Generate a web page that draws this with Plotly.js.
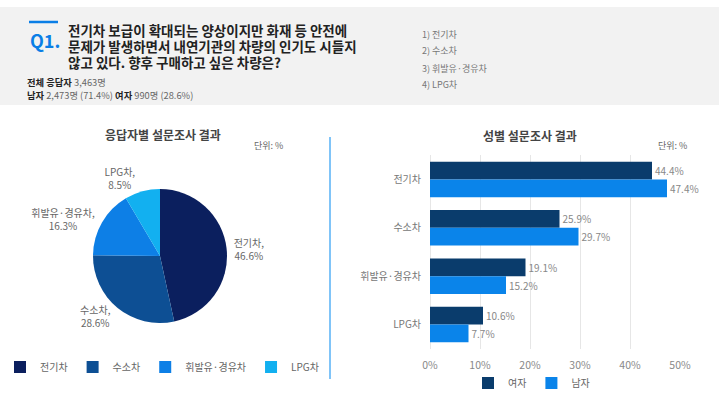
<!DOCTYPE html>
<html><head><meta charset="utf-8">
<script src="https://cdn.plot.ly/plotly-3.0.1.min.js"></script>
<style>html,body{margin:0;padding:0;background:#fff}#c{width:719px;height:401px}</style>
</head><body><div id="c"></div>
<script>
// ---- data ----
const pieLabels = ['전기차', '수소차', '휘발유·경유차', 'LPG차'];
const pieValues = [46.6, 28.6, 16.3, 8.5];
const barCategories = ['전기차', '수소차', '휘발유·경유차', 'LPG차'];
const femaleValues = [44.4, 25.9, 19.1, 10.6];
const maleValues = [47.4, 29.7, 15.2, 7.7];
const xTickValues = [0, 10, 20, 30, 40, 50];
const optionList = ['1) 전기차', '2) 수소차', '3) 휘발유·경유차', '4) LPG차'];

const W = 719, H = 401;
const px = x => x / W, py = y => 1 - y / H;
const FONT = '"Noto Sans CJK KR", "Noto Sans", sans-serif';
const pct = v => v + '%';

const pieColors = ['#0b1f5e', '#0d4f94', '#0d7fe6', '#12b0f0'];

const traces = [
  {
    type: 'pie', labels: pieLabels, values: pieValues, sort: false, direction: 'clockwise', rotation: 0,
    marker: {colors: pieColors, line: {width: 0}},
    textposition: 'outside', texttemplate: '%{label},<br>%{value}%',
    textfont: {size: 10, color: '#666', family: FONT},
    domain: {x: [px(93), px(227)], y: [py(323), py(189)]},
    legend: 'legend', hoverinfo: 'none'
  },
  {
    type: 'bar', orientation: 'h', name: '여자', y: barCategories, x: femaleValues,
    xaxis: 'x', yaxis: 'y', marker: {color: '#0a3c6c'},
    text: femaleValues.map(pct), texttemplate: '%{text}', textposition: 'outside', cliponaxis: false, constraintext: 'none',
    textfont: {size: 10, color: '#888', family: FONT}, legend: 'legend2'
  },
  {
    type: 'bar', orientation: 'h', name: '남자', y: barCategories, x: maleValues,
    xaxis: 'x', yaxis: 'y', marker: {color: '#0a84ea'},
    text: maleValues.map(pct), texttemplate: '%{text}', textposition: 'outside', cliponaxis: false, constraintext: 'none',
    textfont: {size: 10, color: '#888', family: FONT}, legend: 'legend2'
  }
];

function ann(x, y, text, size, color, xanchor, extra) {
  return Object.assign({xref: 'paper', yref: 'paper', x: px(x), y: py(y), text: text,
    showarrow: false, xanchor: xanchor || 'left', yanchor: 'middle',
    font: {size: size, color: color, family: FONT}}, extra || {});
}

const annotations = [
  ann(28, 40, '<b>Q1.</b>', 18, '#0a7ee6'),
  ann(66, 30, '<b>전기차 보급이 확대되는 양상이지만 화재 등 안전에</b>', 13.5, '#222'),
  ann(66, 46, '<b>문제가 발생하면서 내연기관의 차량의 인기도 시들지</b>', 13.5, '#222'),
  ann(66, 62, '<b>않고 있다. 향후 구매하고 싶은 차량은?</b>', 13.5, '#222'),
  ann(25, 82, '<b>전체 응답자</b> <span style="color:#666">3,463명</span>', 9.3, '#222'),
  ann(25, 95, '<b>남자</b> <span style="color:#666">2,473명 (71.4%)</span> <b>여자</b> <span style="color:#666">990명 (28.6%)</span>', 9.3, '#222'),
  ann(163, 134, '<b>응답자별 설문조사 결과</b>', 12, '#444', 'center'),
  ann(268, 145, '단위: %', 9, '#666', 'center'),
  ann(530, 135, '<b>성별 설문조사 결과</b>', 12, '#444', 'center'),
  ann(672, 145, '단위: %', 9, '#666', 'center')
];
optionList.forEach((t, i) => annotations.push(ann(420, [34, 50, 68, 84][i], t, 9, '#777')));

const layout = {
  width: W, height: H, margin: {l: 0, r: 0, t: 0, b: 0},
  paper_bgcolor: '#fff', plot_bgcolor: 'rgba(0,0,0,0)',
  font: {family: FONT},
  showlegend: true,
  xaxis: {domain: [px(430), px(680)], range: [0, 50], tickvals: xTickValues, ticktext: xTickValues.map(pct),
    showgrid: true, gridcolor: '#e6e6e6', zeroline: true, zerolinecolor: '#e6e6e6', showline: false,
    tickfont: {size: 10.5, color: '#888', family: FONT}, ticks: 'outside', ticklen: 7, tickcolor: 'rgba(0,0,0,0)',
    anchor: 'y', fixedrange: true},
  yaxis: {domain: [py(348.7), py(155.3)], autorange: 'reversed', type: 'category',
    tickfont: {size: 10, color: '#777', family: FONT}, ticks: 'outside', ticklen: 6, tickcolor: 'rgba(0,0,0,0)',
    showline: false, showgrid: false, anchor: 'x'},
  barmode: 'group', bargap: 0.265, bargroupgap: 0,
  legend: {orientation: 'h', x: 0, y: py(367), xanchor: 'left', yanchor: 'middle',
    font: {size: 10, color: '#666', family: FONT}, itemwidth: 30, traceorder: 'normal'},
  legend2: {orientation: 'h', x: px(468), y: py(383), xanchor: 'left', yanchor: 'middle',
    font: {size: 10, color: '#666', family: FONT}, itemwidth: 30, traceorder: 'normal'},
  shapes: [
    {type: 'rect', xref: 'paper', yref: 'paper', x0: 0, x1: 1, y0: py(105), y1: py(7),
      fillcolor: '#f2f2f2', line: {width: 0}, layer: 'below'},
    {type: 'line', xref: 'paper', yref: 'paper', x0: px(29), x1: px(58), y0: py(22), y1: py(22),
      line: {color: '#0a7ee6', width: 2.5}},
    {type: 'line', xref: 'paper', yref: 'paper', x0: px(330), x1: px(330), y0: py(137), y1: py(379),
      line: {color: '#80c4f8', width: 2}}
  ],
  annotations: annotations
};

Plotly.newPlot('c', traces, layout, {displayModeBar: false, staticPlot: true});
</script></body></html>
